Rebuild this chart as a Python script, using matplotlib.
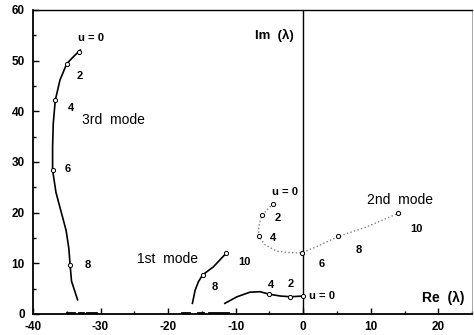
import matplotlib
matplotlib.use('Agg')
import matplotlib.pyplot as plt
from matplotlib.ticker import MultipleLocator

plt.rcParams['font.family'] = ['Liberation Sans', 'DejaVu Sans']
plt.rcParams['axes.unicode_minus'] = False

# 3rd mode locus, u = 0 at the top
mode3_re = [-33.0, -34.0, -35.0, -36.0, -36.7, -37.0, -37.1, -37.1, -36.6, -35.8, -35.1, -34.7, -34.5, -34.3, -33.4]
mode3_im = [52.1, 50.8, 49.4, 46.2, 42.2, 37.6, 33.0, 28.4, 24.0, 20.0, 16.5, 13.0, 9.6, 6.5, 2.8]
mode3_mk_re = [-33.2, -35.0, -36.7, -37.1, -34.5]
mode3_mk_im = [51.8, 49.4, 42.2, 28.4, 9.6]

# 1st mode, branch from u = 0 to the left
mode1a_re = [0.0, -1.9, -3.4, -5.0, -6.4, -7.9, -9.8, -11.6]
mode1a_im = [3.55, 3.4, 3.55, 3.9, 4.4, 4.3, 3.4, 2.1]
mode1a_mk_re = [0.0, -1.9, -5.0]
mode1a_mk_im = [3.55, 3.4, 3.9]

# 1st mode, second branch up to u = 10
mode1b_re = [-16.4, -16.0, -15.5, -14.9, -13.3, -11.4]
mode1b_im = [2.1, 4.7, 6.4, 7.7, 9.3, 12.0]
mode1b_mk_re = [-14.9, -11.4]
mode1b_mk_im = [7.7, 12.0]

# 2nd mode (dotted)
mode2_re = [-4.4, -5.4, -6.1, -6.6, -6.6, -5.6, -3.9, -1.9, -0.2, 2.0, 5.2, 9.4, 14.1]
mode2_im = [21.8, 20.5, 19.5, 17.2, 15.3, 13.6, 12.4, 12.1, 12.1, 13.3, 15.3, 17.2, 19.9]
mode2_mk_re = [-4.4, -6.1, -6.6, -0.2, 5.2, 14.1]
mode2_mk_im = [21.8, 19.5, 15.3, 12.1, 15.3, 19.9]

# short marks sitting on the real axis
real_marks = [(-34.9, -34.0), (-33.2, -32.6), (-32.0, -30.6),
              (-17.9, -16.9), (-15.6, -14.8), (-13.9, -11.1)]

# labels: (text, re, im)
u_labels = [
    ('u = 0', -33.4, 54.4), ('2', -33.6, 47.0), ('4', -34.8, 40.6),
    ('6', -35.3, 28.6), ('8', -32.4, 9.6),
    ('u = 0', 0.9, 3.5), ('2', -2.3, 6.0), ('4', -5.2, 5.7),
    ('8', -13.6, 5.3), ('10', -9.6, 10.2),
    ('u = 0', -4.6, 24.1), ('2', -4.3, 18.9), ('4', -5.0, 14.9),
    ('6', 2.3, 9.8), ('8', 7.7, 12.7), ('10', 15.9, 16.7),
]
mode_labels = [('3rd  mode', -32.7, 38.3), ('1st  mode', -24.6, 10.8), ('2nd  mode', 9.4, 22.5)]

fig = plt.figure(figsize=(4.74, 3.35), dpi=100)
ax = fig.add_axes([0.0696, 0.0627, 0.9264, 0.9075])

ax.axvline(0, color='black', lw=1.0)

ax.plot(mode3_re, mode3_im, '-', color='black', lw=1.2)
ax.plot(mode1a_re, mode1a_im, '-', color='black', lw=1.2)
ax.plot(mode1b_re, mode1b_im, '-', color='black', lw=1.2)
ax.plot(mode2_re, mode2_im, ':', color='#808080', lw=1.0)

for xs, ys in [(mode3_mk_re, mode3_mk_im), (mode1a_mk_re, mode1a_mk_im),
               (mode1b_mk_re, mode1b_mk_im), (mode2_mk_re, mode2_mk_im)]:
    ax.plot(xs, ys, 'o', mfc='white', mec='black', ms=3.0, mew=0.7)

for x0, x1 in real_marks:
    ax.plot([x0, x1], [0.15, 0.15], '-', color='black', lw=2.0)

for txt, x, y in u_labels:
    ax.text(x, y, txt, fontsize=8, fontweight='bold', va='center', ha='left')
for txt, x, y in mode_labels:
    ax.text(x, y, txt, fontsize=10, fontweight='medium', va='center', ha='left')
ax.text(-7.1, 55.0, 'Im  (\u03bb)', fontsize=9.5, fontweight='bold', va='center', ha='left')
ax.text(17.6, 3.2, 'Re  (\u03bb)', fontsize=10, fontweight='bold', va='center', ha='left')

ax.set_xlim(-40, 25)
ax.set_ylim(0, 60)
ax.xaxis.set_major_locator(MultipleLocator(10))
ax.xaxis.set_minor_locator(MultipleLocator(5))
ax.yaxis.set_major_locator(MultipleLocator(10))
ax.yaxis.set_minor_locator(MultipleLocator(5))
ax.tick_params(which='both', direction='in', labelsize=8.5, width=1.0)
ax.tick_params(which='major', length=4)
ax.tick_params(which='minor', length=2)
ax.tick_params(axis='x', pad=5)
ax.tick_params(axis='y', pad=6)
for lab in ax.get_xticklabels() + ax.get_yticklabels():
    lab.set_fontweight('bold')
ax.spines['left'].set_linewidth(1.3)
ax.spines['bottom'].set_linewidth(1.3)
ax.spines['top'].set_linewidth(1.0)
ax.spines['right'].set_linewidth(0.6)
ax.spines['right'].set_color('#999999')

fig.savefig('out.png', dpi=100)
